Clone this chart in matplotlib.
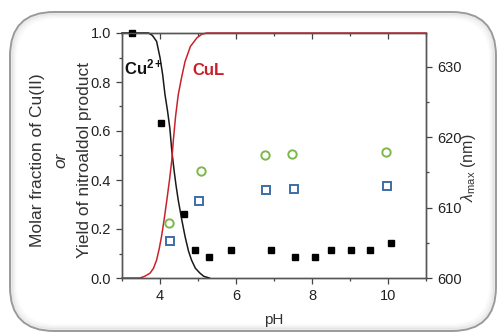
import numpy as np
import matplotlib
matplotlib.use("Agg")
import matplotlib.pyplot as plt
from matplotlib.patches import FancyBboxPatch
from matplotlib.ticker import MultipleLocator

plt.rcParams['font.family'] = ['Liberation Sans', 'DejaVu Sans']
plt.rcParams['mathtext.fontset'] = 'custom'
plt.rcParams['mathtext.rm'] = 'Liberation Sans'
plt.rcParams['mathtext.it'] = 'Liberation Sans:italic'
plt.rcParams['mathtext.bf'] = 'Liberation Sans:bold'

# species distribution curves
ph_cu = [3.0, 3.7, 3.8, 3.91, 4.0, 4.07, 4.13, 4.2, 4.26, 4.31, 4.37, 4.42,
         4.48, 4.57, 4.66, 4.75, 4.83, 4.93, 5.05, 5.15, 5.3]
frac_cu = [1.0, 1.0, 0.99, 0.966, 0.90, 0.83, 0.75, 0.68, 0.61, 0.52, 0.44, 0.38,
           0.318, 0.24, 0.169, 0.11, 0.073, 0.04, 0.02, 0.007, 0.0]

ph_cul = [3.0, 3.47, 3.6, 3.74, 3.83, 3.91, 3.98, 4.04, 4.11, 4.18, 4.25, 4.31,
          4.35, 4.41, 4.48, 4.57, 4.66, 4.8, 4.97, 5.1, 5.23, 11.0]
frac_cul = [0.0, 0.0, 0.007, 0.02, 0.04, 0.073, 0.12, 0.169, 0.24, 0.318, 0.40, 0.48,
            0.56, 0.66, 0.748, 0.82, 0.884, 0.945, 0.98, 0.995, 1.0, 1.0]

# yield of nitroaldol product
ph_yield = [3.25, 4.03, 4.64, 4.92, 5.30, 5.86, 6.93, 7.54, 8.08, 8.50, 9.03, 9.53, 10.07]
yield_val = [1.0, 0.633, 0.26, 0.116, 0.087, 0.114, 0.114, 0.087, 0.087, 0.114, 0.114, 0.114, 0.144]

# lambda max series (right axis)
ph_green = [4.24, 5.08, 6.76, 7.48, 9.95]
lam_green = [607.8, 615.2, 617.5, 617.6, 617.9]
ph_blue = [4.25, 5.03, 6.78, 7.53, 9.98]
lam_blue = [605.3, 611.0, 612.5, 612.6, 613.1]

W, H = 500, 335
fig = plt.figure(figsize=(W / 100, H / 100), dpi=100)

# rounded frame drawn in pixel coordinates
bg = fig.add_axes([0, 0, 1, 1])
bg.set_xlim(0, W)
bg.set_ylim(H, 0)
bg.axis('off')
for i, a in enumerate([0.05, 0.035, 0.025, 0.015, 0.01]):
    bg.add_patch(FancyBboxPatch((10 + i + 1.5, 12 + i + 1.5), 486 - 2 * i - 3, 319 - 2 * i - 3,
                                boxstyle="round,pad=0,rounding_size=42",
                                fc='none', ec='black', alpha=a, lw=2))
bg.add_patch(FancyBboxPatch((10, 12), 486, 319, boxstyle="round,pad=0,rounding_size=44",
                            fc='none', ec='#9a9a9a', lw=1.4))

ax = fig.add_axes([122 / W, 1 - 278 / H, (426 - 122) / W, (278 - 33) / H])
ax.patch.set_alpha(0)
ax.plot(ph_cu, frac_cu, color='#1a1a1a', lw=1.1, clip_on=False, zorder=3)
ax.plot(ph_cul, frac_cul, color='#c8232c', lw=1.1, clip_on=False, zorder=3)
ax.plot(ph_yield, yield_val, 's', color='black', ms=4.2, clip_on=False, zorder=4)

ax.set_xlim(3, 11)
ax.set_ylim(0, 1.0)
ax.xaxis.set_major_locator(MultipleLocator(2))
ax.xaxis.set_major_formatter(plt.FormatStrFormatter('%d'))
ax.xaxis.set_minor_locator(MultipleLocator(1))
ax.yaxis.set_major_locator(MultipleLocator(0.2))
ax.yaxis.set_minor_locator(MultipleLocator(0.1))
ax.yaxis.set_major_formatter(plt.FormatStrFormatter('%.1f'))
ax.tick_params(which='both', direction='out', color='#444444', labelsize=10.5,
               labelcolor='#222222', width=0.9)
ax.tick_params(which='major', length=4.5)
ax.tick_params(which='minor', length=2.5)
for s in ax.spines.values():
    s.set_color('#555555')
    s.set_linewidth(1.0)

top = ax.secondary_xaxis('top')
top.xaxis.set_major_locator(MultipleLocator(2))
top.xaxis.set_minor_locator(MultipleLocator(1))
top.tick_params(which='both', direction='in', labeltop=False, color='#444444', width=0.9)
top.tick_params(which='major', length=4.5)
top.tick_params(which='minor', length=2.5)
top.spines['top'].set_visible(False)

ax2 = ax.twinx()
ax2.plot(ph_green, lam_green, 'o', mfc='none', mec='#7cb84a', mew=1.4, ms=6)
ax2.plot(ph_blue, lam_blue, 's', mfc='none', mec='#3d6ea8', mew=1.4, ms=6)
ax2.set_ylim(600, 634.8)
ax2.yaxis.set_major_locator(MultipleLocator(10))
ax2.yaxis.set_minor_locator(MultipleLocator(5))
ax2.tick_params(which='both', direction='out', color='#444444', labelsize=10.5,
                labelcolor='#222222', width=0.9)
ax2.tick_params(which='major', length=4.5)
ax2.tick_params(which='minor', length=2.5)
for s in ax2.spines.values():
    s.set_color('#555555')
    s.set_linewidth(1.0)

ax.text(3.05, 0.83, r'Cu$^{\mathbf{2+}}$', fontsize=12, fontweight='bold', color='#111111')
ax.text(4.85, 0.83, 'CuL', fontsize=12, fontweight='bold', color='#c8202a')

# axis labels
fig.text(38 / W, 1 - 160 / H, 'Molar fraction of Cu(II)', rotation=90,
         ha='center', va='center', fontsize=12.5, color='#333333')
fig.text(61 / W, 1 - 160 / H, 'or', rotation=90, style='italic',
         ha='center', va='center', fontsize=12.5, color='#333333')
fig.text(84 / W, 1 - 160 / H, 'Yield of nitroaldol product', rotation=90,
         ha='center', va='center', fontsize=12.5, color='#333333')
fig.text(469 / W, 1 - 168 / H, r'$\lambda_{\rm max}$ (nm)', rotation=90,
         ha='center', va='center', fontsize=11.5, color='#333333')
fig.text(274 / W, 1 - 320 / H, 'pH', ha='center', va='center', fontsize=11, color='#333333')

fig.savefig('out.png', dpi=100)
